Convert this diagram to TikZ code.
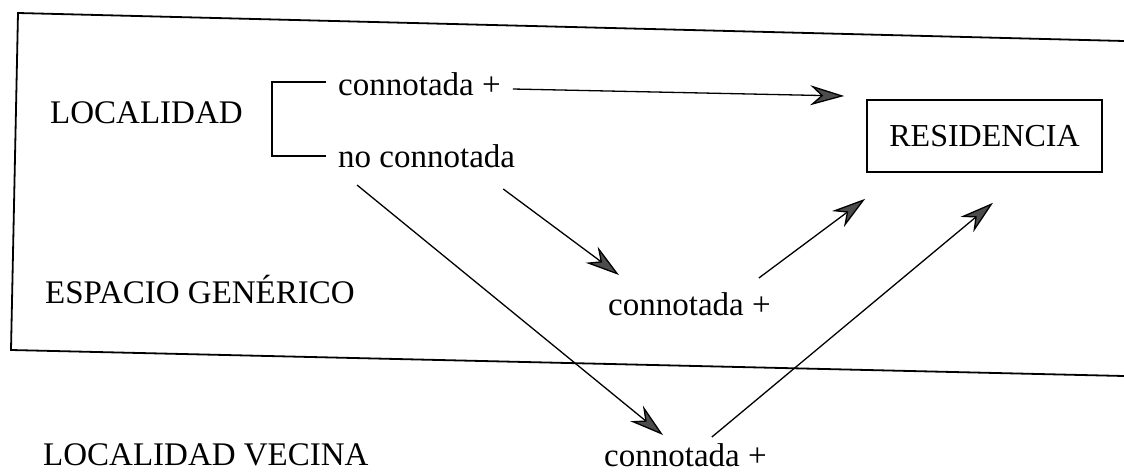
\documentclass[tikz,border=0pt]{standalone}
\usepackage{fontspec}
\setmainfont{Liberation Serif}
\usetikzlibrary{arrows.meta,calc}
\tikzset{
  lbl/.style={inner sep=0pt, anchor=base west, font=\fontsize{33}{40}\selectfont},
  framel/.style={line width=1.8pt, line join=miter},
  brk/.style={line width=1.5pt},
  resbox/.style={draw, line width=1.6pt, minimum width=235pt, minimum height=72pt, inner sep=0pt, font=\fontsize{32}{40}\selectfont},
  arr/.style={line width=1.3pt, -{Stealth[length=34pt,width=20pt,inset=11pt,fill=black!70]}},
}
\begin{document}
\begin{tikzpicture}[x=1pt,y=-1pt]
\useasboundingbox (0,0) rectangle (1124,474);
% frame
\draw[framel] (1124,41) -- (18,13) -- (11,350) -- (1124,376);
% texts
\node[lbl] (loc) at (50,123) {LOCALIDAD};
\node[lbl] (conn1) at (338,95) {connotada +};
\node[lbl] (noconn) at (338,167) {no connotada};
\node[resbox] (res) at (984.5,136) {RESIDENCIA};
\node[lbl] (gen) at (45,303) {ESPACIO GENÉRICO};
\node[lbl] (mid) at (608,315) {connotada +};
\node[lbl] (vec) at (43,465) {LOCALIDAD VECINA};
\node[lbl] (bot) at (604,466) {connotada +};
% bracket
\draw[brk] ($(conn1.base west)+(-12,-13)$) -- ($(conn1.base west)+(-66,-13)$)
  -- ($(noconn.base west)+(-66,-11)$) -- ($(noconn.base west)+(-12,-11)$);
% arrows
\draw[arr] ($(conn1.base east)+(12,-6)$) -- ($(res.west)+(-22,-40)$);
\draw[arr] ($(noconn.base east)+(-12,22)$) -- ($(mid.base west)+(11,-40)$);
\draw[arr] ($(noconn.base west)+(19,18)$) -- ($(bot.base west)+(59,-31)$);
\draw[arr] ($(mid.base east)+(-12,-37)$) -- ($(res.south west)+(-1,26)$);
\draw[arr] ($(bot.base east)+(-55,-29)$) -- ($(res.south)+(8.5,30)$);
\end{tikzpicture}
\end{document}
